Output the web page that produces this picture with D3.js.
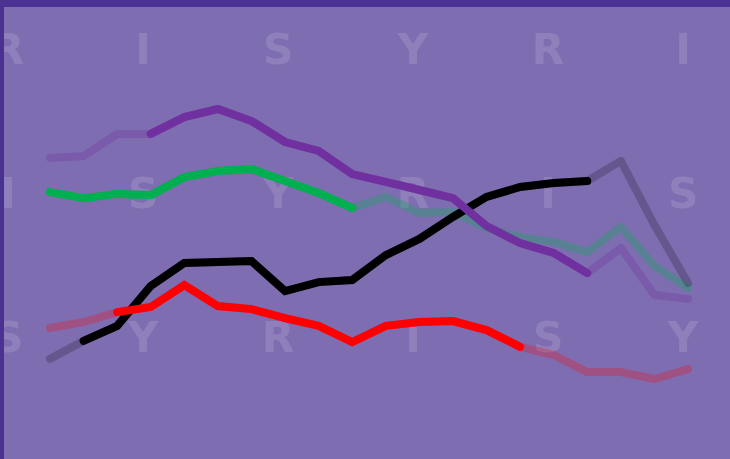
<!DOCTYPE html>
<html>
<head>
<meta charset="utf-8">
<script src="https://cdn.jsdelivr.net/npm/d3@7"></script>
<style>
  body { margin: 0; padding: 0; background: #7f6db1; }
  svg { display: block; }
</style>
</head>
<body>
<div id="chart"></div>
<script>
// periodes (pas de labels visibles sur le graphe)
const periods = [1,2,3,4,5,6,7,8,9,10,11,12,13,14,15,16,17,18,19,20]

// valeurs (echelle 0-100)
const purpleValues = [80.7,81.3,88.7,88.7,94.3,97.0,93.0,86.0,83.0,75.3,72.7,70.0,67.3,58.0,52.3,49.0,42.3,50.7,35.0,33.7]
const greenValues  = [69.3,67.3,68.7,68.3,74.3,76.3,77.0,73.0,69.0,64.0,67.7,62.3,62.7,57.3,54.3,52.7,49.3,57.7,44.7,37.3]
const blackValues  = [13.7,19.7,24.7,38.0,45.7,46.0,46.3,36.3,39.3,40.0,48.3,53.7,61.0,67.7,71.0,72.3,73.0,79.7,58.3,39.0]
const redValues    = [24.0,26.0,29.3,31.0,38.3,31.3,30.3,27.3,24.7,19.3,24.7,26.0,26.3,23.3,17.7,15.0,9.3,9.3,7.0,10.3]

// partie mise en avant de chaque serie (indices debut/fin)
const purpleRange = [3,16]
const greenRange  = [0,9]
const blackRange  = [1,16]
const redRange    = [2,14]

const watermarkLetters = ["R","I","S","Y"]

const W = 730, H = 459

function drawChart()
{
    let svg = d3.select("#chart").append("svg")
    .attr("width", W)
    .attr("height", H)

    svg.append("rect")
    .attr("width", W)
    .attr("height", H)
    .attr("fill", "#7f6db1")

    // lettres en filigrane
    for(let r=0;r<3;r++)
    {
        for(let c=0;c<6;c++)
        {
            svg.append("text")
            .attr("x", 8 + c*135)
            .attr("y", 64 + r*144)
            .attr("text-anchor", "middle")
            .style("font-family", "'DejaVu Sans', sans-serif")
            .style("font-weight", "bold")
            .style("font-size", "42px")
            .attr("fill", "#ffffff")
            .attr("fill-opacity", 0.15)
            .text(watermarkLetters[(r+c)%4])
        }
    }

    let x = d3.scalePoint()
    .domain(periods)
    .range([50, 688])

    let y = d3.scaleLinear()
    .domain([0, 100])
    .range([400, 100])

    let line = d3.line()
    .x((d,i) => x(periods[i]))
    .y(d => y(d))
    .defined(d => d !== null)

    let series = [
        {values: greenValues, range: greenRange, color: "#00b050", fade: 0.3},
        {values: blackValues, range: blackRange, color: "#000000", fade: 0.2},
        {values: purpleValues, range: purpleRange, color: "#7030a0", fade: 0.3},
        {values: redValues, range: redRange, color: "#ff0000", fade: 0.25}
    ]

    // lignes estompees (toute la serie)
    series.forEach(s => {
        svg.append("path")
        .datum(s.values)
        .attr("d", line)
        .attr("fill", "none")
        .attr("stroke", s.color)
        .attr("stroke-opacity", s.fade)
        .attr("stroke-width", 8)
        .attr("stroke-linecap", "round")
        .attr("stroke-linejoin", "round")
    })

    // lignes pleines (partie mise en avant)
    series.forEach(s => {
        let part = s.values.map((v,i) => (i>=s.range[0] && i<=s.range[1]) ? v : null)
        svg.append("path")
        .datum(part)
        .attr("d", line)
        .attr("fill", "none")
        .attr("stroke", s.color)
        .attr("stroke-width", 8)
        .attr("stroke-linecap", "round")
        .attr("stroke-linejoin", "miter")
    })

    // bordures
    svg.append("rect")
    .attr("width", W)
    .attr("height", 7)
    .attr("fill", "#4b3192")
    svg.append("rect")
    .attr("width", 4)
    .attr("height", H)
    .attr("fill", "#4b3192")
}

drawChart()
</script>
</body>
</html>
